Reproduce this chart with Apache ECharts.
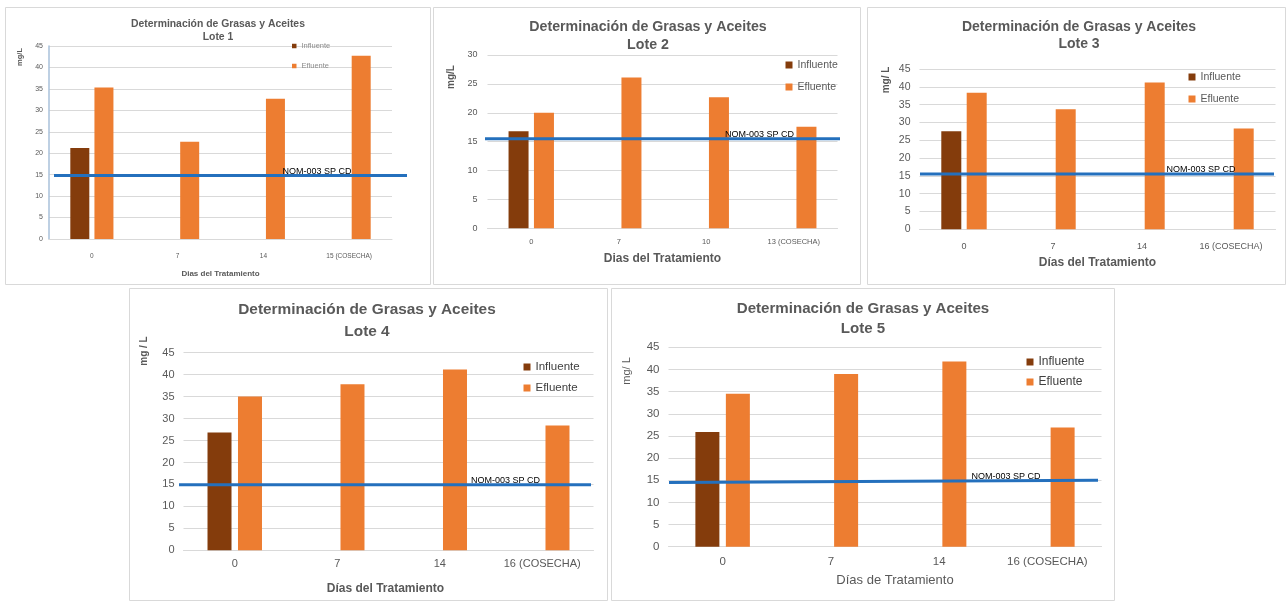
<!DOCTYPE html>
<html>
<head>
<meta charset="utf-8">
<script src="https://cdn.jsdelivr.net/npm/echarts@6/dist/echarts.min.js"></script>
<style>
  html, body { margin: 0; padding: 0; background: #ffffff; }
  #chart { width: 1288px; height: 602px; }
</style>
</head>
<body>
<div id="chart"></div>
<script>
// ---- Data: Determinación de Grasas y Aceites (mg/L), five batches ----
const diasLote1 = ['0', '7', '14', '15 (COSECHA)'];
const diasLote2 = ['0', '7', '10', '13 (COSECHA)'];
const diasLote3 = ['0', '7', '14', '16 (COSECHA)'];
const diasLote4 = ['0', '7', '14', '16 (COSECHA)'];
const diasLote5 = ['0', '7', '14', '16 (COSECHA)'];

const influenteLote1 = [21.2, null, null, null];
const influenteLote2 = [16.8, null, null, null];
const influenteLote3 = [27.5, null, null, null];
const influenteLote4 = [26.8, null, null, null];
const influenteLote5 = [25.9, null, null, null];

const efluenteLote1 = [35.3, 22.7, 32.7, 42.7];
const efluenteLote2 = [20.0, 26.1, 22.7, 17.6];
const efluenteLote3 = [38.3, 33.7, 41.2, 28.3];
const efluenteLote4 = [35.0, 37.8, 41.2, 28.4];
const efluenteLote5 = [34.5, 39.0, 41.8, 26.9];

// NOM-003 SP CD reference line (value at start / end of the plot)
const nomLote1 = [14.8, 14.8];
const nomLote2 = [15.5, 15.5];
const nomLote3 = [15.5, 15.5];
const nomLote4 = [14.9, 14.9];
const nomLote5 = [14.5, 15.0];

// y axis upper bound per batch (ticks every 5)
const yMaxLote = [45, 30, 45, 45, 45];
const yStep = 5;

const lotes = [
  { lote: 'Lote 1', dias: diasLote1, inf: influenteLote1, efl: efluenteLote1, nom: nomLote1, yMax: yMaxLote[0] },
  { lote: 'Lote 2', dias: diasLote2, inf: influenteLote2, efl: efluenteLote2, nom: nomLote2, yMax: yMaxLote[1] },
  { lote: 'Lote 3', dias: diasLote3, inf: influenteLote3, efl: efluenteLote3, nom: nomLote3, yMax: yMaxLote[2] },
  { lote: 'Lote 4', dias: diasLote4, inf: influenteLote4, efl: efluenteLote4, nom: nomLote4, yMax: yMaxLote[3] },
  { lote: 'Lote 5', dias: diasLote5, inf: influenteLote5, efl: efluenteLote5, nom: nomLote5, yMax: yMaxLote[4] }
];

// ---- Layout and styling of each panel ----
const FONT = '"Liberation Sans", Arial, sans-serif';
const COLOR_INF = '#843C0C';
const COLOR_EFL = '#ED7D31';
const COLOR_NOM = '#2470BD';
const GRID_LINE = '#D9D9D9';

// grid: [left, top, width, height]; line: [left, right] pixel span of the reference line; labelCx: label centre x
const styles = [
  { box: [5, 7, 425, 277], grid: [49, 46, 343, 193], titleX: 218, titleTop: 17.5, titleSize: 10.4, titleLH: 13,
    tick: 7, xTick: 6.5, xMargin: 14, yMargin: 6,
    xName: 'Dias del Tratamiento', xNameSize: 8, xNameGap: 31, xNameBold: true, xNameShift: 0,
    yName: 'mg/L', yNamePos: [19.5, 57], yNameSize: 7.5, yNameBold: true,
    legend: { left: 292, top: 41.5, size: 4.5, font: 7.5, lh: 9, gap: 11, color: '#8C8C8C' },
    barWidth: 19, line: [54, 407], labelCx: 317, labelSize: 9, axisLine: true },
  { box: [433, 7, 427, 277], grid: [487.5, 55, 350, 173.3], titleX: 648, titleTop: 18, titleSize: 14.2, titleLH: 18,
    tick: 9, xTick: 7.5, xMargin: 10, yMargin: 10,
    xName: 'Dias del Tratamiento', xNameSize: 12, xNameGap: 24.5, xNameBold: true, xNameShift: 0,
    yName: 'mg/L', yNamePos: [451, 77], yNameSize: 10, yNameBold: true,
    legend: { left: 785.5, top: 59, size: 7, font: 10.5, lh: 12, gap: 10, color: '#595959' },
    barWidth: 20, line: [485, 840], labelCx: 759.5, labelSize: 9, axisLine: false },
  { box: [867, 7, 418, 277], grid: [919.5, 69, 356, 160.3], titleX: 1079, titleTop: 18.5, titleSize: 14, titleLH: 17,
    tick: 10.5, xTick: 9, xMargin: 13, yMargin: 9,
    xName: 'Días del Tratamiento', xNameSize: 12, xNameGap: 27.5, xNameBold: true, xNameShift: 0,
    yName: 'mg/ L', yNamePos: [886, 80], yNameSize: 10, yNameBold: true,
    legend: { left: 1188.5, top: 71, size: 7, font: 10.5, lh: 12, gap: 10, color: '#595959' },
    barWidth: 20, line: [920, 1274], labelCx: 1201, labelSize: 9, axisLine: false },
  { box: [129, 288, 478, 312], grid: [183.5, 352.7, 410, 197.6], titleX: 367, titleTop: 299, titleSize: 15.4, titleLH: 22,
    tick: 11, xTick: 11, xMargin: 8, yMargin: 9,
    xName: 'Días del Tratamiento', xNameSize: 12, xNameGap: 32.5, xNameBold: true, xNameShift: -6,
    yName: 'mg / L', yNamePos: [144, 351], yNameSize: 10, yNameBold: true,
    legend: { left: 523.5, top: 360.5, size: 7, font: 11.5, lh: 13, gap: 8, color: '#404040' },
    barWidth: 24, line: [179, 591], labelCx: 505.5, labelSize: 9, axisLine: false },
  { box: [611, 288, 503, 312], grid: [668.5, 347.3, 433, 199.4], titleX: 863, titleTop: 299, titleSize: 15.1, titleLH: 20,
    tick: 11.5, xTick: 11.5, xMargin: 9, yMargin: 9,
    xName: 'Días de Tratamiento', xNameSize: 13, xNameGap: 27, xNameBold: false, xNameShift: 20,
    yName: 'mg/ L', yNamePos: [627, 371], yNameSize: 11, yNameBold: false,
    legend: { left: 1026.5, top: 355.5, size: 7, font: 12, lh: 13, gap: 7, color: '#404040' },
    barWidth: 24, line: [669, 1098], labelCx: 1006, labelSize: 9, axisLine: false }
];

const option = {
  animation: false,
  backgroundColor: '#ffffff',
  title: [], legend: [], grid: [], xAxis: [], yAxis: [], series: [], graphic: []
};

const n = lotes.length;

lotes.forEach((L, k) => {
  const s = styles[k];

  // panel frame
  option.graphic.push({
    type: 'rect', silent: true, z: -10,
    shape: { x: s.box[0] + 0.5, y: s.box[1] + 0.5, width: s.box[2], height: s.box[3] },
    style: { fill: '#ffffff', stroke: '#D9D9D9', lineWidth: 1 }
  });

  // rotated y axis title
  option.graphic.push({
    type: 'text', silent: true, x: s.yNamePos[0], y: s.yNamePos[1], rotation: Math.PI / 2,
    style: {
      text: s.yName, fill: '#595959', textAlign: 'center', textVerticalAlign: 'middle',
      font: (s.yNameBold ? 'bold ' : '') + s.yNameSize + 'px ' + FONT
    }
  });

  option.title.push({
    text: 'Determinación de Grasas y Aceites\n' + L.lote,
    left: s.titleX, top: s.titleTop, textAlign: 'center', padding: 0,
    textStyle: { fontFamily: FONT, fontWeight: 'bold', fontSize: s.titleSize, lineHeight: s.titleLH, color: '#595959' }
  });

  option.legend.push({
    data: ['Influente', 'Efluente'],
    orient: 'vertical', left: s.legend.left, top: s.legend.top, padding: 0,
    itemWidth: s.legend.size, itemHeight: s.legend.size, itemGap: s.legend.gap, icon: 'rect',
    selectedMode: false,
    textStyle: { fontFamily: FONT, fontSize: s.legend.font, lineHeight: s.legend.lh, color: s.legend.color }
  });

  // plot area of the bars
  option.grid[k] = { left: s.grid[0], top: s.grid[1], width: s.grid[2], height: s.grid[3], containLabel: false };
  // area spanned by the reference line (same vertical scale, slightly wider)
  option.grid[n + k] = { left: s.line[0], top: s.grid[1], width: s.line[1] - s.line[0], height: s.grid[3], containLabel: false };

  option.xAxis[k] = {
    type: 'category', gridIndex: k, data: L.dias,
    axisTick: { show: false },
    axisLine: { show: true, lineStyle: { color: GRID_LINE, width: 1 } },
    axisLabel: { interval: 0, fontFamily: FONT, fontSize: s.xTick, color: '#595959', margin: s.xMargin },
    name: s.xName, nameLocation: 'middle', nameGap: s.xNameGap,
    nameTextStyle: {
      fontFamily: FONT, fontSize: s.xNameSize, fontWeight: s.xNameBold ? 'bold' : 'normal', color: '#595959',
      padding: s.xNameShift >= 0 ? [0, 0, 0, s.xNameShift] : [0, -s.xNameShift, 0, 0]
    }
  };
  option.xAxis[n + k] = { type: 'value', gridIndex: n + k, min: 0, max: 1, show: false };

  option.yAxis[k] = {
    type: 'value', gridIndex: k, min: 0, max: L.yMax, interval: yStep,
    axisTick: { show: false },
    axisLine: { show: s.axisLine, lineStyle: { color: '#A9C1DA', width: 1.5 } },
    axisLabel: { fontFamily: FONT, fontSize: s.tick, color: '#595959', margin: s.yMargin },
    splitLine: { show: true, lineStyle: { color: GRID_LINE, width: 1 } }
  };
  option.yAxis[n + k] = { type: 'value', gridIndex: n + k, min: 0, max: L.yMax, interval: yStep, show: false };

  option.series.push({
    name: 'Influente', type: 'bar', xAxisIndex: k, yAxisIndex: k,
    data: L.inf, barWidth: s.barWidth, barGap: '27%', itemStyle: { color: COLOR_INF }
  });
  option.series.push({
    name: 'Efluente', type: 'bar', xAxisIndex: k, yAxisIndex: k,
    data: L.efl, barWidth: s.barWidth, barGap: '27%', itemStyle: { color: COLOR_EFL }
  });

  const lx = (s.labelCx - s.line[0]) / (s.line[1] - s.line[0]);
  option.series.push({
    name: 'NOM-003 SP CD', type: 'line', xAxisIndex: n + k, yAxisIndex: n + k,
    data: [[0, L.nom[0]], [1, L.nom[1]]],
    symbol: 'none', z: 5, silent: true,
    lineStyle: { color: COLOR_NOM, width: 3 },
    markPoint: {
      symbol: 'circle', symbolSize: 0, silent: true,
      label: {
        show: true, position: 'top', distance: 0, formatter: 'NOM-003 SP CD',
        fontFamily: FONT, fontSize: s.labelSize, color: '#000000'
      },
      data: [{ coord: [lx, L.nom[0] + (L.nom[1] - L.nom[0]) * lx] }]
    }
  });
});

const chart = echarts.init(document.getElementById('chart'), null, { renderer: 'canvas' });
chart.setOption(option);
</script>
</body>
</html>
